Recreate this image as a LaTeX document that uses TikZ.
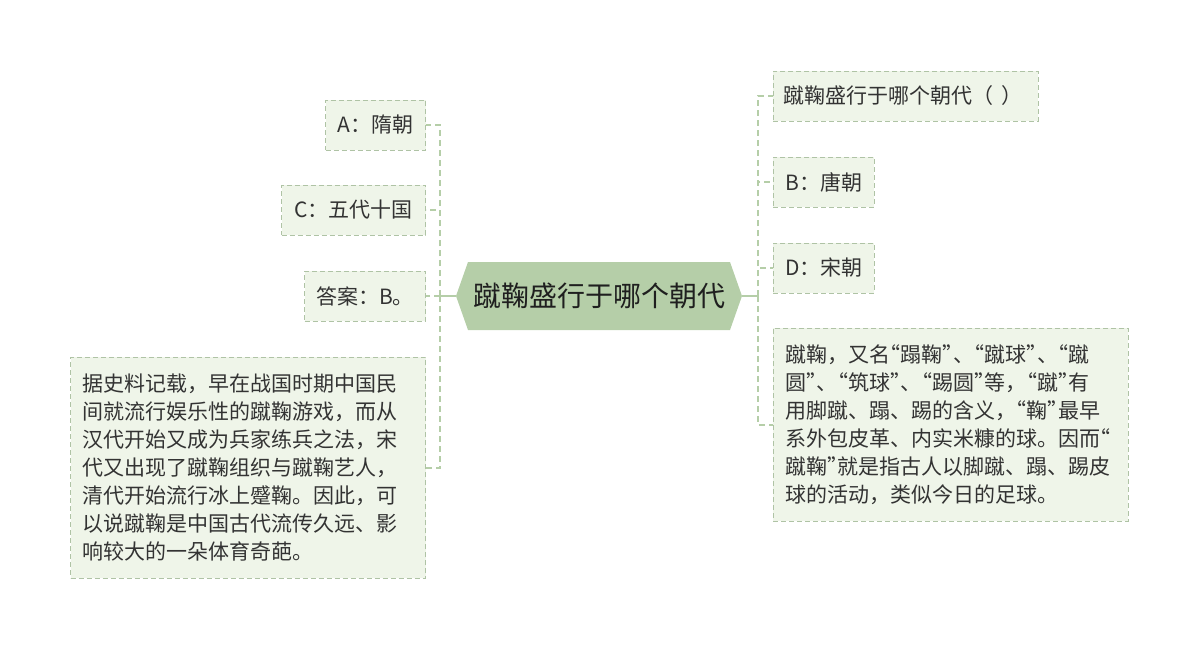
\documentclass[tikz,border=0pt]{standalone}
\usepackage{fontspec}
\setmainfont{Noto Sans CJK SC}
\definecolor{titlefill}{HTML}{B5CEA8}
\definecolor{boxfill}{HTML}{EFF5E9}
\definecolor{boxline}{HTML}{AFC3A5}
\definecolor{linkcol}{HTML}{B5CEA8}
\definecolor{textcol}{HTML}{333333}
\newcommand{\oq}{\makebox[0.5em][r]{“}}
\newcommand{\cq}{\makebox[0.5em][l]{”}}
\tikzset{
  leaf/.style={draw=boxline, dash pattern=on 5pt off 3pt, line width=0.9pt, fill=boxfill,
    text=textcol, font=\fontsize{21}{28}\selectfont, inner xsep=0pt, inner ysep=0pt,
    minimum height=50pt},
  para/.style={leaf, inner xsep=12pt, inner ysep=14.5pt, align=left},
  titlebox/.style={text=black!88, font=\fontsize{28}{32}\selectfont, minimum width=262pt,
    minimum height=68pt, inner sep=0pt},
  stem/.style={draw=linkcol, line width=1.2pt},
  link/.style={draw=linkcol, line width=1.2pt, dash pattern=on 6pt off 4pt},
}
\begin{document}
\begin{tikzpicture}[x=1pt,y=-1pt]
\useasboundingbox (0,0) rectangle (1200,650);
% title hexagon
\coordinate (lt) at (456,296);
\coordinate (rt) at (742,296);
\fill[titlefill] (468,262) -- (730,262) -- (rt) -- (730,330) -- (468,330) -- (lt) -- cycle;
\node[titlebox] (c) at (599,296) {蹴鞠盛行于哪个朝代};
\coordinate (lj) at (440,296);
\coordinate (rj) at (758,296);
% left nodes
\node[leaf, anchor=east, minimum width=100pt] (a) at (426,125) {A：隋朝};
\node[leaf, anchor=east, minimum width=144pt] (cc) at (426,210) {C：五代十国};
\node[leaf, anchor=east, minimum width=121pt] (ans) at (426,296) {答案：B。};
\node[para, anchor=north east, minimum width=355pt, minimum height=221pt, text width=331pt] (hist) at (426,357) {据史料记载，早在战国时期中国民\\间就流行娱乐性的蹴鞠游戏，而从\\汉代开始又成为兵家练兵之法，宋\\代又出现了蹴鞠组织与蹴鞠艺人，\\清代开始流行冰上蹙鞠。因此，可\\以说蹴鞠是中国古代流传久远、影\\响较大的一朵体育奇葩。};
% right nodes
\node[leaf, anchor=west, minimum width=265pt, inner xsep=10pt, text width=245pt, align=left] (q) at (773,96) {蹴鞠盛行于哪个朝代（\hspace{0.4em}）};
\node[leaf, anchor=west, minimum width=101pt] (b) at (773,182) {B：唐朝};
\node[leaf, anchor=west, minimum width=101pt] (d) at (773,268) {D：宋朝};
\node[para, anchor=north west, minimum width=355pt, minimum height=193pt, text width=331pt, inner ysep=14pt] (def) at (773,328) {蹴鞠，又名\oq 蹋鞠\cq 、\oq 蹴球\cq 、\oq 蹴\\圆\cq 、\oq 筑球\cq 、\oq 踢圆\cq 等，\oq 蹴\cq 有\\用脚蹴、蹋、踢的含义，\oq 鞠\cq 最早\\系外包皮革、内实米糠的球。因而\oq\\蹴鞠\cq 就是指古人以脚蹴、蹋、踢皮\\球的活动，类似今日的足球。};
% connectors
\draw[stem] (lt) -- (lj);
\draw[stem] (rt) -- (rj);
\foreach \n in {a,cc,ans,hist} \draw[link] (lj) |- (\n.east);
\foreach \n in {q,b,d,def} \draw[link] (rj) |- (\n.west);
\end{tikzpicture}
\end{document}
